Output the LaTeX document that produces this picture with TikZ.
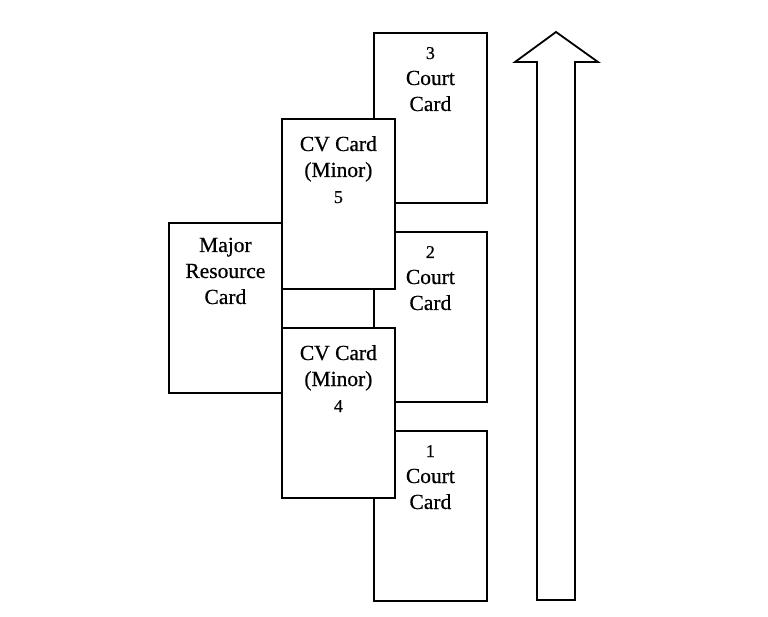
\documentclass[tikz,border=0pt]{standalone}
\usepackage{fontspec}
\setmainfont[BoldFont={Liberation Serif}, BoldFeatures={FakeBold=0.6}]{Liberation Serif}
\begin{document}
\begin{tikzpicture}[x=1pt,y=-1pt,
  card/.style={draw=black, fill=white, line width=1.8pt, rectangle, minimum width=113pt, minimum height=170pt, anchor=north west, inner sep=0pt},
  cardtext/.style={anchor=base, align=center, inner sep=0pt, font=\bfseries\fontsize{21.5pt}{26pt}\selectfont},
  bigarrow/.style={draw=black, fill=white, line width=1.8pt, line join=miter}]
\useasboundingbox (0,0) rectangle (768,617);
% court cards
\node[card] (c3) at (373,32) {};
\node[card] (c2) at (373,231) {};
\node[card] (c1) at (373,430) {};
% major card
\node[card] (maj) at (168,222) {};
% CV cards
\node[card] (cv5) at (281,118) {};
\node[card] (cv4) at (281,327) {};
% texts
\node[cardtext] (t3) at ([yshift=-79pt]c3.north) {{\fontsize{18pt}{26pt}\selectfont 3}\\Court\\Card};
\node[cardtext] (t2) at ([yshift=-79pt]c2.north) {{\fontsize{18pt}{26pt}\selectfont 2}\\Court\\Card};
\node[cardtext] (t1) at ([yshift=-79pt]c1.north) {{\fontsize{18pt}{26pt}\selectfont 1}\\Court\\Card};
\node[cardtext] (tmaj) at ([yshift=-82pt]maj.north) {Major\\Resource\\Card};
\node[cardtext] (t5) at ([yshift=-85pt]cv5.north) {CV Card\\(Minor)\\{\fontsize{18pt}{26pt}\selectfont 5}};
\node[cardtext] (t4) at ([yshift=-85pt]cv4.north) {CV Card\\(Minor)\\{\fontsize{18pt}{26pt}\selectfont 4}};
% arrow
\draw[bigarrow] (537,600) -- (537,62) -- (515,62) -- (556,32) -- (598,62) -- (575,62) -- (575,600) -- cycle;
\end{tikzpicture}
\end{document}
